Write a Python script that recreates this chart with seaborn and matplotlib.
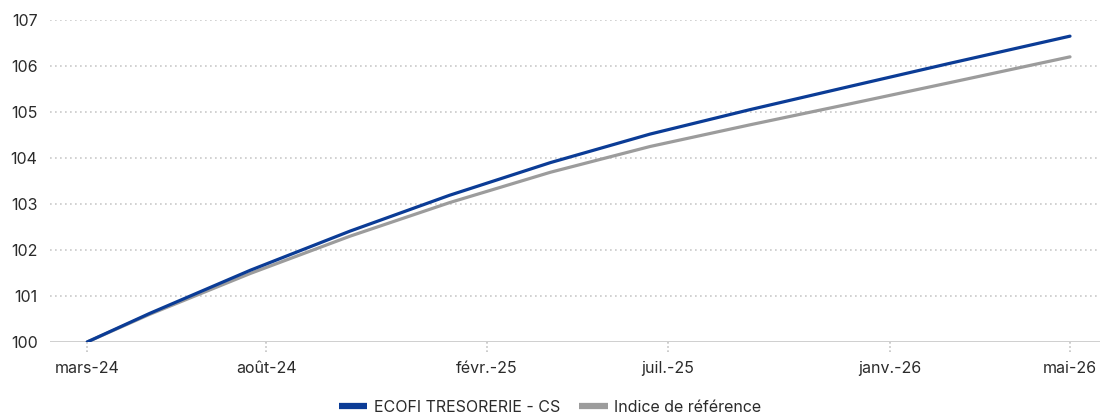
import matplotlib
matplotlib.use("Agg")
import matplotlib.pyplot as plt
import matplotlib.transforms as mtransforms
import numpy as np
import pandas as pd
import seaborn as sns

# Days elapsed since the start of the period (base 100)
days = [0, 52, 136, 219, 302, 386, 469, 552, 636, 719, 819]
fonds = [100.00, 100.62, 101.56, 102.41, 103.19, 103.90, 104.52, 105.05, 105.56, 106.06, 106.65]
indice = [100.00, 100.60, 101.49, 102.30, 103.03, 103.69, 104.25, 104.72, 105.18, 105.64, 106.20]

tick_days = [0, 149, 333, 484, 669, 819]
tick_labels = ["mars-24", "août-24", "févr.-25", "juil.-25", "janv.-26", "mai-26"]
y_ticks = [100, 101, 102, 103, 104, 105, 106, 107]

series_names = ["ECOFI TRESORERIE - CS", "Indice de référence"]
colors = ["#0b3c96", "#9c9c9c"]

df = pd.DataFrame({
    "jour": days * 2,
    "valeur": fonds + indice,
    "serie": [series_names[0]] * len(days) + [series_names[1]] * len(days),
})

sns.set_theme(style="white")
plt.rcParams["font.family"] = ["Inter", "DejaVu Sans"]

fig = plt.figure(figsize=(11, 4.18), dpi=100)
ax = fig.add_axes([0.0455, 0.182, 0.9545, 0.770])

# Horizontal dotted grid
for v in y_ticks[1:]:
    ax.axhline(v, color="#c9c9c9", lw=1.2, ls=(0, (1, 2)), zorder=0)
ax.axhline(100, color="#cfcfcf", lw=1.4, zorder=1)

sns.lineplot(data=df, x="jour", y="valeur", hue="serie", hue_order=series_names[::-1],
             palette=dict(zip(series_names, colors)), lw=2.3, ax=ax, legend=False, zorder=3)

ax.set_xlim(-31, 844)
ax.set_ylim(100, 107)
ax.set_yticks(y_ticks)
ax.set_yticklabels([str(v) for v in y_ticks])
ax.set_xticks(tick_days)
ax.set_xticklabels(tick_labels)
ax.set_xlabel("")
ax.set_ylabel("")
for s in ax.spines.values():
    s.set_visible(False)

ax.tick_params(axis="y", length=0, pad=9, labelsize=11.5, labelcolor="#2b2b2b")
ax.tick_params(axis="x", length=0, pad=14, labelsize=11.5, labelcolor="#2b2b2b")

# Small dotted tick marks below the baseline
trans = mtransforms.blended_transform_factory(ax.transData, ax.transAxes)
for d in tick_days:
    ax.plot([d, d], [0, -0.03], transform=trans, color="#c4c4c4", lw=1.2,
            ls=(0, (1, 1.5)), clip_on=False)

handles = [plt.Line2D([0], [0], color=c, lw=4.5, solid_capstyle="butt") for c in colors]
fig.legend(handles, series_names, loc="center", bbox_to_anchor=(0.5, 0.025),
           ncol=2, frameon=False, fontsize=11.5, handlelength=1.8,
           handletextpad=0.4, columnspacing=1.2, labelcolor="#2b2b2b")

fig.savefig("out.png", dpi=100)
